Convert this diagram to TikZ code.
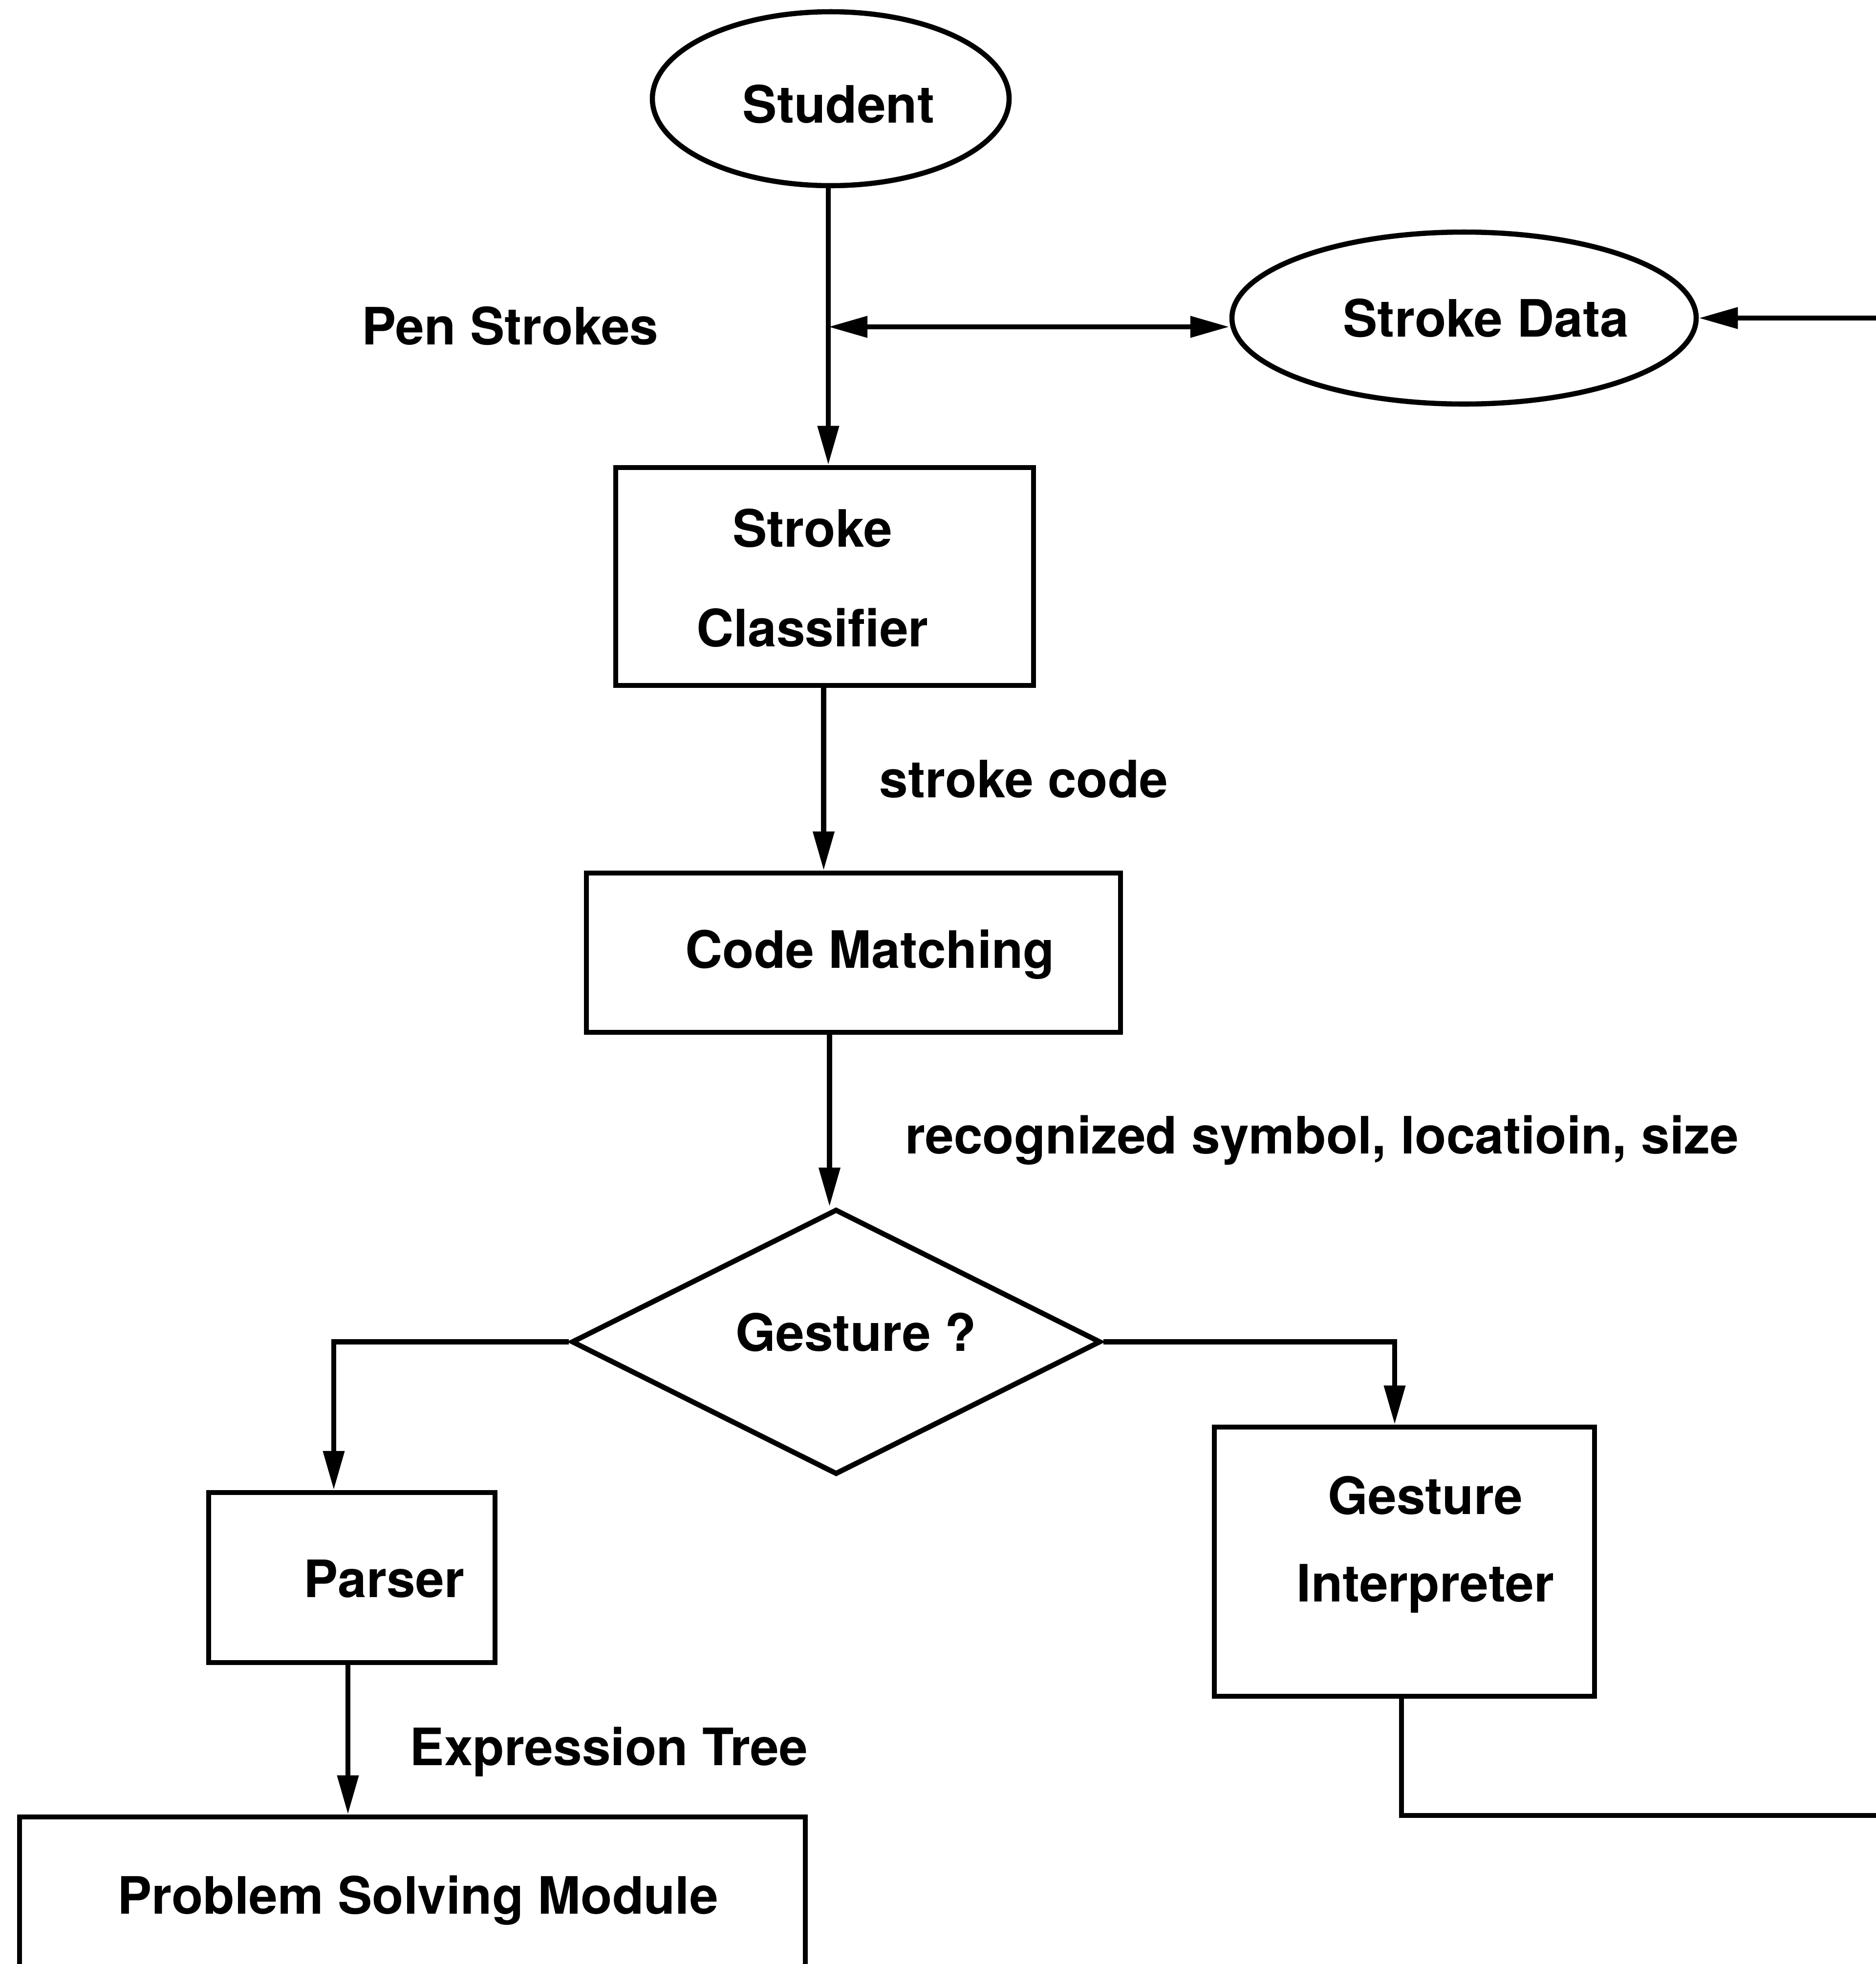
\documentclass[tikz,border=0pt]{standalone}
\usepackage{fontspec}
\setmainfont{TeX Gyre Heros}
\usetikzlibrary{arrows.meta,shapes.geometric,calc}

\begin{document}
\begin{tikzpicture}[
  >={Triangle[length=0.8cm,width=0.42cm]},
  conn/.style={line width=3pt},
  box/.style={draw, line width=3pt, rectangle, inner sep=0pt},
  oval/.style={draw, line width=3pt, ellipse, inner sep=0pt},
  txt/.style={font=\fontsize{30}{36}\selectfont\bfseries},
]
\useasboundingbox (0,0) rectangle (38.39,-40.20);
\clip (0,0) rectangle (38.39,-40.20);

% data sources
\node[oval, minimum width=7.30cm, minimum height=3.56cm,
      label={[txt, xshift=0.16cm, yshift=-0.11cm]center:Student}]
  (student) at (17.00,-2.02) {};
\node[oval, minimum width=9.50cm, minimum height=3.52cm,
      label={[txt, xshift=0.45cm]center:Stroke Data}]
  (sd) at (29.96,-6.51) {};

% processing stages
\node[box, minimum width=8.55cm, minimum height=4.46cm,
      label={[txt, align=center, font=\fontsize{30}{58}\selectfont\bfseries, xshift=-0.25cm, yshift=-0.03cm]center:{Stroke\\Classifier}}]
  (sc) at (16.875,-11.80) {};
\node[box, minimum width=10.93cm, minimum height=3.26cm,
      label={[txt, xshift=0.34cm, yshift=-0.04cm]center:Code Matching}]
  (cm) at (17.465,-19.50) {};
\node[draw, line width=3pt, diamond, inner sep=0pt,
      minimum width=10.83cm, minimum height=5.43cm,
      label={[txt, xshift=0.41cm, yshift=0.20cm]center:Gesture ?}]
  (gd) at (17.11,-27.465) {};
\node[box, minimum width=5.86cm, minimum height=3.48cm,
      label={[txt, xshift=0.66cm, yshift=-0.02cm]center:Parser}]
  (parser) at (7.20,-32.29) {};
\node[box, minimum width=7.78cm, minimum height=5.51cm,
      label={[txt, align=center, font=\fontsize{30}{51}\selectfont\bfseries, xshift=0.43cm, yshift=0.35cm]center:{Gesture\\Interpreter}}]
  (gi) at (28.74,-31.965) {};
\node[box, minimum width=16.08cm, minimum height=3.41cm,
      label={[txt, xshift=0.11cm]center:Problem Solving Module}]
  (psm) at (8.44,-38.895) {};

% connector labels
\node[txt] (lpen) at (10.44,-6.67) {Pen Strokes};
\node[txt] (lcode) at (20.95,-15.95) {stroke code};
\node[txt] (lsym) at (27.05,-23.34) {recognized symbol, locatioin, size};
\node[txt] (ltree) at (12.46,-35.86) {Expression Tree};

% connectors
\coordinate (jn) at (16.95,-6.69);
\draw[conn,->] (student.south -| jn) -- (jn |- sc.north);
\draw[conn,<->] (jn) -- (jn -| sd.west);
\draw[conn,->] ([xshift=-0.02cm]sc.south) -- ([xshift=-0.02cm]sc.south |- cm.north);
\draw[conn,->] ([xshift=-0.49cm]cm.south) -- ([xshift=-0.49cm]cm.south |- gd.north);
\draw[conn,->] (gd.west) -| ([xshift=-0.37cm]parser.north);
\draw[conn,->] (gd.east) -| ([xshift=-0.20cm]gi.north);
\draw[conn,->] ([xshift=-0.08cm]parser.south) -- ([xshift=-0.08cm]parser.south |- psm.north);
\draw[conn,->] ([xshift=-0.06cm]gi.south) |- (39.5,-37.16) |- (sd.east);
\end{tikzpicture}
\end{document}
